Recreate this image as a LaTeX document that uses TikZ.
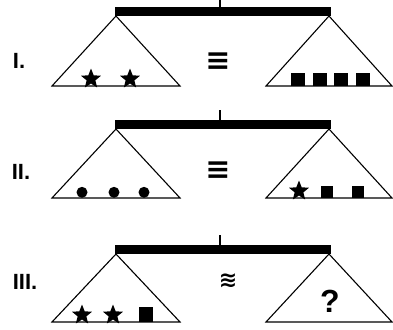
\documentclass[tikz,border=0pt]{standalone}
\usepackage{fontspec}
\setmainfont{Liberation Sans}
\newfontfamily\symfont{DejaVu Sans}
\usetikzlibrary{shapes.geometric}

\begin{document}
\begin{tikzpicture}[x=1pt, y=-1pt,
  pan/.style={draw=black, line width=1.1pt, line join=miter},
  starw/.style={star, star points=5, star point ratio=2.3, fill=black,
                minimum size=21pt, inner sep=0pt},
  sqw/.style={rectangle, fill=black, minimum width=14pt, minimum height=13pt,
              inner sep=0pt, anchor=south},
  ball/.style={circle, fill=black, minimum size=11pt, inner sep=0pt, anchor=south},
  numlabel/.style={font=\fontsize{22}{22}\selectfont\bfseries},
  eqsign/.style={font=\symfont\fontsize{30}{30}\selectfont\bfseries}]

\useasboundingbox (0,0) rectangle (393,329);

% the three balances: hanger, beam, two pans
\foreach \ybeam/\yhook/\ybase in {7/0/86, 120/110/198, 245/235/322} {
  \draw[line width=1.4pt] (220,\yhook) -- (220,\ybeam);
  \fill (115,\ybeam) rectangle (331,\ybeam+9);
  \draw[pan] (116,\ybeam+9) -- (52,\ybase) -- (180,\ybase) -- cycle;
  \draw[pan] (329,\ybeam+9) -- (266,\ybase) -- (392,\ybase) -- cycle;
}

% row I
\node[numlabel] (labi) at (19,61) {I.};
\node[eqsign] (eqi) at (218,62) {≡};
\node[starw] (stari) at (91,79) {};
\node[starw] (starii) at (130,79) {};
\node[sqw] (sqi) at (297.5,86) {};
\node[sqw] (sqii) at (320,86) {};
\node[sqw] (sqiii) at (341,86) {};
\node[sqw] (sqiv) at (362.5,86) {};

% row II
\node[numlabel] (labii) at (21,172) {II.};
\node[eqsign] (eqii) at (218,171) {≡};
\node[ball] (balli) at (82,198) {};
\node[ball] (ballii) at (114,198) {};
\node[ball] (balliii) at (144,198) {};
\node[starw] (stariii) at (299,191) {};
\node[sqw, minimum width=12pt, minimum height=12pt] (sqv) at (327,198) {};
\node[sqw, minimum width=12pt, minimum height=12pt] (sqvi) at (358,198) {};

% row III
\node[numlabel] (labiii) at (25,282) {III.};
\node[eqsign, font=\symfont\fontsize{22}{22}\selectfont\bfseries] (eqiii) at (228,281) {≋};
\node[starw] (stariv) at (82,315) {};
\node[starw] (starv) at (113,315) {};
\node[sqw, minimum height=15pt] (sqvii) at (145.5,322) {};
\node[font=\fontsize{32}{32}\selectfont\bfseries] (qmark) at (330,301) {?};

\end{tikzpicture}
\end{document}
